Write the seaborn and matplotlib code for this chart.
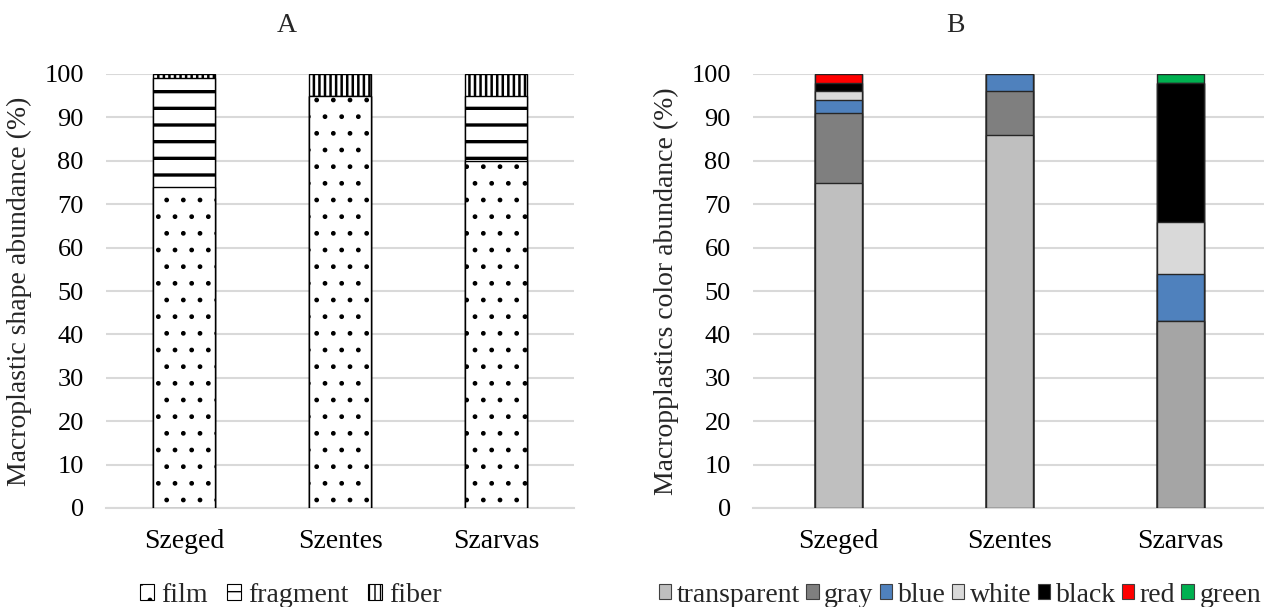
import matplotlib
matplotlib.use("Agg")
import matplotlib.pyplot as plt
import seaborn as sns
from matplotlib.patches import Patch

# --- data -------------------------------------------------------------
sites = ["Szeged", "Szentes", "Szarvas"]

shape_names = ["film", "fragment", "fiber"]
film = [74, 95, 80]
fragment = [25, 0, 15]
fiber = [1, 5, 5]

color_names = ["transparent", "gray", "blue", "white", "black", "red", "green"]
transparent = [75, 86, 43]
gray = [16, 10, 0]
blue = [3, 4, 11]
white = [2, 0, 12]
black = [2, 0, 32]
red = [2, 0, 0]
green = [0, 0, 2]

y_ticks = list(range(0, 101, 10))

# --- style ------------------------------------------------------------
sns.set_theme(style="white")
plt.rcParams["font.family"] = ["Liberation Serif", "DejaVu Serif"]
plt.rcParams["hatch.linewidth"] = 1.0
FS = 20
FS_Y = 19
GRID = "#D9D9D9"

shape_series = [film, fragment, fiber]
shape_hatch = {"film": ".", "fragment": "-", "fiber": "|||"}
shape_hlw = {"film": 1.0, "fragment": 2.4, "fiber": 1.8}

color_series = [transparent, gray, blue, white, black, red, green]
seg_color = {
    "transparent": "#BFBFBF", "gray": "#7F7F7F", "blue": "#4F81BD",
    "white": "#D9D9D9", "black": "#000000", "red": "#FF0000", "green": "#00B050",
}
# the Szarvas transparent segment is filled a shade darker
transparent_palette = {"Szeged": "#BFBFBF", "Szentes": "#BFBFBF", "Szarvas": "#A5A5A5"}


def cumulative(series_list):
    out, run = [], [0] * len(sites)
    for s in series_list:
        run = [a + b for a, b in zip(run, s)]
        out.append(run)
    return out


fig = plt.figure(figsize=(12.64, 6.07), dpi=100)
axA = fig.add_axes([106 / 1264, 99 / 607, 468 / 1264, 434 / 607])
axB = fig.add_axes([753 / 1264, 99 / 607, 513 / 1264, 434 / 607])

# Panel A: shapes, stacked by overdrawing cumulative totals from the top down
cumA = cumulative(shape_series)
for name, heights in reversed(list(zip(shape_names, cumA))):
    with plt.rc_context({"hatch.linewidth": shape_hlw[name]}):
        sns.barplot(x=sites, y=heights, color="white", hatch=shape_hatch[name],
                    edgecolor="black", linewidth=1.0, width=0.4, ax=axA,
                    saturation=1, zorder=3)

# Panel B: colours
cumB = cumulative(color_series)
for name, heights in reversed(list(zip(color_names, cumB))):
    if name == "transparent":
        sns.barplot(x=sites, y=heights, hue=sites, palette=transparent_palette,
                    legend=False, edgecolor="#262626", linewidth=1.0, width=0.275,
                    ax=axB, saturation=1, zorder=3)
    else:
        sns.barplot(x=sites, y=heights, color=seg_color[name],
                    edgecolor="#262626", linewidth=1.0, width=0.275, ax=axB,
                    saturation=1, zorder=3)

for ax, ylab in [(axA, "Macroplastic shape abundance (%)"),
                 (axB, "Macropplastics color abundance (%)")]:
    ax.set_ylim(0, 100)
    ax.set_xlim(-0.5, 2.5)
    ax.set_yticks(y_ticks)
    ax.set_yticklabels([str(t) for t in y_ticks])
    ax.yaxis.grid(True, color=GRID, linewidth=1.5, zorder=0)
    ax.set_axisbelow(True)
    for side in ["top", "right", "left"]:
        ax.spines[side].set_visible(False)
    ax.spines["bottom"].set_color(GRID)
    ax.spines["bottom"].set_linewidth(1.5)
    ax.tick_params(axis="both", length=0, colors="black")
    ax.tick_params(axis="y", pad=16, labelsize=FS_Y)
    ax.tick_params(axis="x", pad=15, labelsize=FS)
    ax.set_xlabel("")
    ax.set_ylabel(ylab, fontsize=FS, labelpad=9)

fig.text(287 / 1264, 1 - 25 / 607, "A", ha="center", va="center", fontsize=FS)
fig.text(955 / 1264, 1 - 25 / 607, "B", ha="center", va="center", fontsize=FS)

handlesA = [Patch(facecolor="white", edgecolor="black", hatch=shape_hatch[n],
                  linewidth=0.8, label=n) for n in shape_names]
fig.legend(handles=handlesA, loc="center", bbox_to_anchor=(291 / 1264, 1 - 595 / 607),
           ncol=3, frameon=False, fontsize=FS, handlelength=0.5, handleheight=0.5,
           handletextpad=0.25, columnspacing=0.7, borderpad=0, borderaxespad=0)

handlesB = [Patch(facecolor=seg_color[n], edgecolor="#404040", linewidth=0.8, label=n)
            for n in color_names]
fig.legend(handles=handlesB, loc="center", bbox_to_anchor=(960 / 1264, 1 - 595 / 607),
           ncol=7, frameon=False, fontsize=FS, handlelength=0.45, handleheight=0.45,
           handletextpad=0.2, columnspacing=0.22, borderpad=0, borderaxespad=0)

fig.savefig("out.png", dpi=100)
